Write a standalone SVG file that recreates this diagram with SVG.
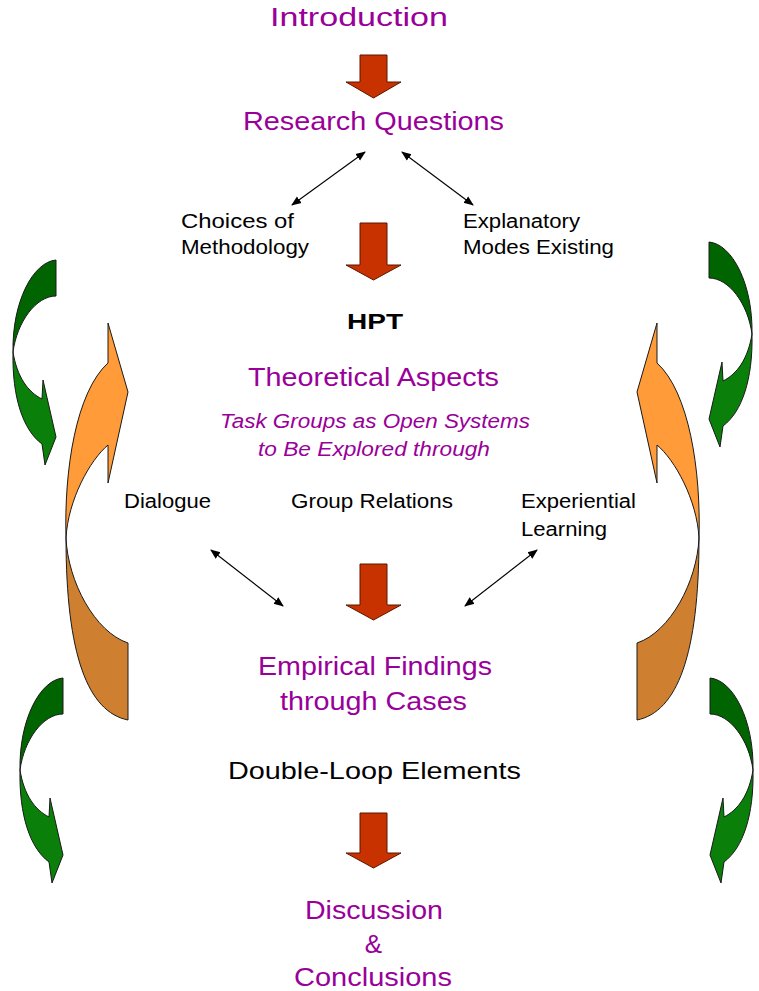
<svg xmlns="http://www.w3.org/2000/svg" width="759" height="991" viewBox="0 0 759 991">
  <style>
    .t { font-family: "Liberation Sans", Arial, sans-serif; }
    .h { fill: #990099; font-size: 26px; text-anchor: middle; }
    .b { fill: #000; font-size: 20px; }
    .it { fill: #990099; font-size: 20px; font-style: italic; text-anchor: middle; }
    .red { fill: #C83200; stroke: #5A1600; stroke-width: 1; }
    .gd { fill: #006400; stroke: #1a1a1a; stroke-width: 1; }
    .gl { fill: #0A7F0A; stroke: #1a1a1a; stroke-width: 1; }
    .od { fill: #CF7F30; stroke: #1a1a1a; stroke-width: 1; }
    .ol { fill: #FF9B38; stroke: #1a1a1a; stroke-width: 1; }
    .conn { stroke: #000; stroke-width: 1.1; fill: none; marker-start: url(#ah); marker-end: url(#ah); }
  </style>
  <defs>
    <marker id="ah" viewBox="0 0 10 10" refX="9" refY="5" markerWidth="10" markerHeight="10" markerUnits="userSpaceOnUse" orient="auto-start-reverse">
      <path d="M0,1 L10,5 L0,9 Z" fill="#000"/>
    </marker>
    <!-- down arrow block -->
    <path id="down" class="red" d="M360,0 L387,0 L387,0 Z"/>
    <!-- green curved arrow, opening right, pointing down-right -->
    <g id="green">
      <path class="gd" d="M63,678 C40,680 19,720 20,770 C24,740 43,714 63,714 Z"/>
      <path class="gl" d="M20,770 C24,795 35,810 49,817 L50,798 L63,855 L52,883 L49,862 C30,848 19,815 20,770 Z"/>
    </g>
    <!-- orange curved arrow, opening right, pointing up-right -->
    <g id="orange">
      <path class="od" d="M66,538 C68,582 95,632 128,643 L128,720 C88,712 66,655 66,538 Z"/>
      <path class="ol" d="M108,363 L108,323 L128,392 L108,483 L108,445 C90,460 68,500 66,538 C64,470 76,392 108,363 Z"/>
    </g>
  </defs>

  <!-- side loops -->
  <g id="loops">
    <use href="#green" transform="translate(-7,-418)"/>
    <use href="#green"/>
    <use href="#green" transform="matrix(-1,0,0,1,772,-436)"/>
    <use href="#green" transform="matrix(-1,0,0,1,773,0)"/>
    <use href="#orange"/>
    <use href="#orange" transform="matrix(-1,0,0,1,765,0)"/>
  </g>

  <!-- flow arrows -->
  <g id="flow">
    <path class="red" d="M360,55 L387,55 L387,82 L401,82 L373.5,98 L346,82 L360,82 Z"/>
    <path class="red" d="M360,223 L387,223 L387,265 L401,265 L373.5,280 L346,265 L360,265 Z"/>
    <path class="red" d="M360,564 L387,564 L387,605 L401,605 L373.5,620 L346,605 L360,605 Z"/>
    <path class="red" d="M360,813 L387,813 L387,853 L401,853 L373.5,868 L346,853 L360,853 Z"/>
  </g>

  <!-- connectors -->
  <g id="connectors">
    <line class="conn" x1="292" y1="205" x2="365" y2="152"/>
    <line class="conn" x1="473" y1="205" x2="402" y2="152"/>
    <line class="conn" x1="211" y1="550" x2="283" y2="606"/>
    <line class="conn" x1="537" y1="550" x2="465" y2="606"/>
  </g>

  <g id="introduction"><text class="t h" x="359" y="26" textLength="178" lengthAdjust="spacingAndGlyphs">Introduction</text></g>
  <g id="research-questions"><text class="t h" x="373.5" y="130" textLength="261" lengthAdjust="spacingAndGlyphs">Research Questions</text></g>
  <g id="choices">
    <text class="t b" x="181" y="228" textLength="113" lengthAdjust="spacingAndGlyphs">Choices of</text>
    <text class="t b" x="181" y="254" textLength="128" lengthAdjust="spacingAndGlyphs">Methodology</text>
  </g>
  <g id="explanatory">
    <text class="t b" x="463" y="228" textLength="117" lengthAdjust="spacingAndGlyphs">Explanatory</text>
    <text class="t b" x="463" y="254" textLength="151" lengthAdjust="spacingAndGlyphs">Modes Existing</text>
  </g>
  <g id="hpt"><text class="t" x="375" y="329" font-size="22" font-weight="bold" text-anchor="middle" textLength="56" lengthAdjust="spacingAndGlyphs">HPT</text></g>
  <g id="theoretical"><text class="t h" x="373.5" y="386" textLength="251" lengthAdjust="spacingAndGlyphs">Theoretical Aspects</text></g>
  <g id="task-groups">
    <text class="t it" x="375" y="428" textLength="310" lengthAdjust="spacingAndGlyphs">Task Groups as Open Systems</text>
    <text class="t it" x="374" y="456" textLength="232" lengthAdjust="spacingAndGlyphs">to Be Explored through</text>
  </g>
  <g id="dialogue"><text class="t b" x="124" y="508" textLength="87" lengthAdjust="spacingAndGlyphs">Dialogue</text></g>
  <g id="group-relations"><text class="t b" x="291" y="508" textLength="162" lengthAdjust="spacingAndGlyphs">Group Relations</text></g>
  <g id="experiential">
    <text class="t b" x="521" y="508" textLength="115" lengthAdjust="spacingAndGlyphs">Experiential</text>
    <text class="t b" x="521" y="536" textLength="86" lengthAdjust="spacingAndGlyphs">Learning</text>
  </g>
  <g id="empirical">
    <text class="t h" x="375" y="675" textLength="234" lengthAdjust="spacingAndGlyphs">Empirical Findings</text>
    <text class="t h" x="373.5" y="710" textLength="187" lengthAdjust="spacingAndGlyphs">through Cases</text>
  </g>
  <g id="double-loop"><text class="t" x="374.5" y="779" font-size="24" text-anchor="middle" textLength="293" lengthAdjust="spacingAndGlyphs">Double-Loop Elements</text></g>
  <g id="discussion">
    <text class="t h" x="374" y="919" textLength="138" lengthAdjust="spacingAndGlyphs">Discussion</text>
    <text class="t h" x="373.5" y="953">&amp;</text>
    <text class="t h" x="373" y="986" textLength="158" lengthAdjust="spacingAndGlyphs">Conclusions</text>
  </g>
</svg>
